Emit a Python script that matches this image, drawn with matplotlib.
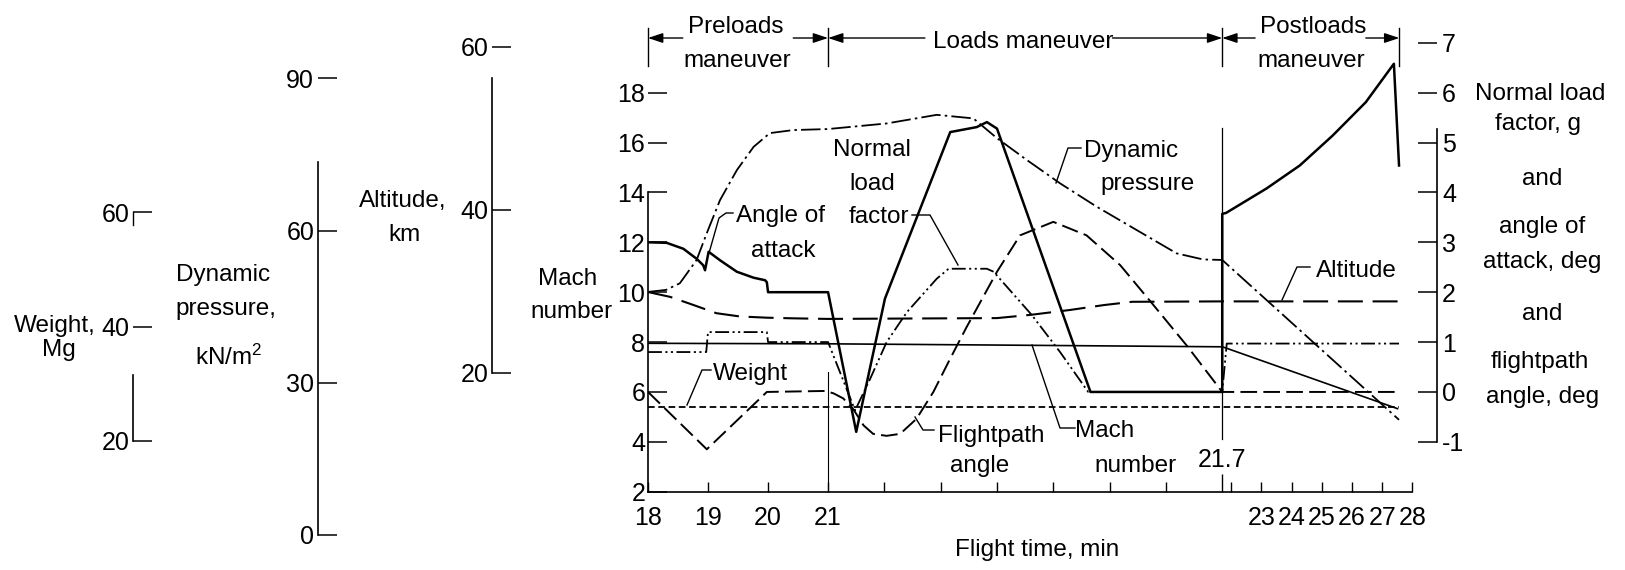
"""
Flight history through the preloads, loads and postloads maneuvers:
weight, dynamic pressure, altitude, Mach number, normal load factor,
angle of attack and flightpath angle against flight time.

Saves the chart to out.png.
"""

import matplotlib
matplotlib.use("Agg")
import matplotlib.pyplot as plt
import numpy as np
from matplotlib import font_manager
from matplotlib.lines import Line2D
from matplotlib.transforms import blended_transform_factory

W, H = 1625, 570

# time axis is piecewise: 18-21 normal, 21-21.7 stretched, 21.7-28 squeezed
TIME_KNOTS = [18.0, 21.0, 21.7, 28.0]
AXIS_KNOTS = [0.0, 180.0, 574.0, 764.0]

time_ticks = [18, 19, 20, 21, 21.1, 21.2, 21.3, 21.4, 21.5, 21.6, 22, 23, 24, 25, 26, 27, 28]
time_labels = ["18", "19", "20", "21", "", "", "", "", "", "", "", "23", "24", "25", "26", "27", "28"]

weight_ticks = [20, 40, 60]
qbar_ticks = [0, 30, 60, 90]
alt_ticks = [20, 40, 60]
mach_ticks = [2, 4, 6, 8, 10, 12, 14, 16, 18]
deg_ticks = [-1, 0, 1, 2, 3, 4, 5, 6, 7]

# maneuver boundaries, min
phase_edges = [18.0, 21.0, 21.7, 27.57]

# ---- curves (flight time, min) ----
weight_t = [18.0, 27.56]
weight_mg = [25.9, 25.9]

qbar_t = [18.0, 18.3, 18.53, 18.81, 18.98, 19.2, 19.48, 19.76, 20.03, 20.42, 21.0,
          21.104, 21.193, 21.258, 21.30, 21.353, 21.412, 21.477, 21.548, 21.619,
          21.666, 21.7, 27.56]
qbar_kn = [47.9, 48.3, 49.6, 54.2, 59.5, 66.0, 71.9, 76.5, 79.2, 79.8, 80.0,
           81.1, 82.8, 82.1, 78.2, 73.9, 69.3, 64.7, 60.1, 55.5,
           54.3, 54.2, 22.7]

alt_t = [18.0, 18.37, 18.76, 19.14, 19.53, 19.98, 20.42, 21.0, 21.3, 21.36, 21.43,
         21.49, 21.54, 21.7, 27.56]
alt_km = [29.9, 29.3, 28.3, 27.3, 26.9, 26.75, 26.67, 26.6, 26.7, 27.1, 27.7,
          28.3, 28.7, 28.75, 28.75]

mach_t = [18.0, 21.0, 21.3, 21.7, 21.85, 27.51]
mach_no = [7.95, 7.93, 7.88, 7.81, 7.75, 5.33]

nz_t = [18.0, 18.97, 19.0, 19.98, 20.0, 21.0, 21.048, 21.075, 21.104, 21.14, 21.193,
        21.214, 21.282, 21.294, 21.362, 21.412, 21.462, 21.7, 21.85, 27.56]
nz_g = [0.8, 0.8, 1.2, 1.2, 1.0, 1.0, -0.37, 0.27, 1.0, 1.6, 2.27,
        2.47, 2.47, 2.41, 1.54, 0.8, 0.0, 0.0, 0.97, 0.97]

aoa_t = [18.0, 18.31, 18.59, 18.81, 18.92, 18.95, 19.01, 19.2, 19.48, 19.76, 19.95,
         19.98, 20.0, 21.0, 21.05, 21.101, 21.217, 21.264, 21.282, 21.30, 21.466,
         21.7, 21.7, 21.83, 23.17, 24.27, 25.36, 26.46, 27.39, 27.56]
aoa_deg = [3.0, 2.99, 2.87, 2.67, 2.54, 2.44, 2.81, 2.64, 2.41, 2.29, 2.24,
           2.2, 2.0, 2.0, -0.8, 1.87, 5.21, 5.31, 5.41, 5.28, 0.0,
           0.0, 3.57, 3.59, 4.08, 4.54, 5.14, 5.81, 6.58, 4.54]

fpa_t = [18.0, 18.98, 19.98, 20.96, 21.01, 21.027, 21.045, 21.063, 21.08, 21.104,
         21.128, 21.157, 21.187, 21.217, 21.246, 21.30, 21.341, 21.40, 21.459,
         21.519, 21.578, 21.637, 21.7, 27.56]
fpa_deg = [0.0, -1.15, 0.0, 0.02, -0.03, -0.13, -0.35, -0.67, -0.84, -0.88,
           -0.84, -0.54, 0.0, 0.67, 1.3, 2.41, 3.14, 3.41, 3.14,
           2.54, 1.74, 0.93, 0.0, 0.0]

# ---- fonts ----
names = {f.name for f in font_manager.fontManager.ttflist}
TEXT_FONT = ["Liberation Sans", "DejaVu Sans"]
if "Liberation Sans Narrow" in names:
    NUM_FONT, NUM_SIZE = ["Liberation Sans Narrow"] + TEXT_FONT, 19.5
else:
    NUM_FONT, NUM_SIZE = TEXT_FONT, 18
plt.rcParams["font.family"] = TEXT_FONT
plt.rcParams["mathtext.default"] = "regular"
plt.rcParams["lines.scale_dashes"] = False
TXT = 17.5


def fwd(t):
    return np.interp(t, TIME_KNOTS, AXIS_KNOTS)


def inv(p):
    return np.interp(p, AXIS_KNOTS, TIME_KNOTS)


fig = plt.figure(figsize=(W / 100, H / 100), dpi=100)
fig.patch.set_facecolor("white")

X0, X1 = 648, 1412.3


def rect(y_bot, y_top):
    return [X0 / W, 1 - y_bot / H, (X1 - X0) / W, (y_bot - y_top) / H]


def spine_at(xpix):
    return ("axes", (xpix - X0) / (X1 - X0))


# main axes carries Mach number
ax = fig.add_axes(rect(491.7, 42.8))
ax.set_xscale("function", functions=(fwd, inv))
ax.set_xlim(18, 28)
ax.set_ylim(2, 20)
ax.patch.set_visible(False)
for s in ("top", "right"):
    ax.spines[s].set_visible(False)
ax.spines["left"].set_bounds(2, 14)
ax.spines["left"].set_linewidth(1.2)
ax.spines["bottom"].set_linewidth(1.2)
ax.set_xticks(time_ticks)
ax.set_xticklabels(time_labels)
ax.set_xticks([21.7], minor=True)
ax.tick_params(axis="x", which="major", direction="in", length=7, width=1.0, pad=10)
ax.tick_params(axis="x", which="minor", direction="in", length=13, width=1.0)
ax.set_yticks(mach_ticks)
ax.tick_params(axis="y", direction="in", length=14, width=1.1, pad=2)

# right scale: normal load factor, angle of attack, flightpath angle
ax_r = ax.twinx()
ax_r.set_ylim(-2, 7)
for s in ("top", "left", "bottom"):
    ax_r.spines[s].set_visible(False)
ax_r.spines["right"].set_position(spine_at(1436.5))
ax_r.spines["right"].set_bounds(-1, 5.28)
ax_r.spines["right"].set_linewidth(1.2)
ax_r.set_yticks(deg_ticks)
ax_r.set_yticklabels([str(v) for v in deg_ticks])
ax_r.tick_params(axis="y", direction="in", length=14, width=1.1, pad=4)


def side_axis(y_bot, y_top, lim, ticks, xpix, bounds):
    a = fig.add_axes(rect(y_bot, y_top), sharex=ax)
    a.patch.set_visible(False)
    a.set_ylim(*lim)
    for s in ("top", "right", "bottom"):
        a.spines[s].set_visible(False)
    a.spines["left"].set_position(spine_at(xpix))
    a.spines["left"].set_bounds(*bounds)
    a.spines["left"].set_linewidth(1.2)
    a.xaxis.set_visible(False)
    a.set_yticks(ticks)
    a.set_yticklabels([str(v) for v in ticks])
    a.tick_params(axis="y", direction="in", length=14, width=1.1, pad=3)
    return a


ax_w = side_axis(441.0, 212.3, (20, 60), weight_ticks, 133.3, (20, 31.5))
ax_q = side_axis(535.0, 78.3, (0, 90), qbar_ticks, 318.3, (0, 73.6))
ax_a = side_axis(372.7, 46.7, (20, 60), alt_ticks, 492.3, (20, 56.2))

# little stub of the weight scale next to the 60 tick
stub = blended_transform_factory(ax_w.transAxes, ax_w.transData)
ax_w.plot([spine_at(133.3)[1]] * 2, [57.8, 60], color="k", lw=1.0,
          transform=stub, clip_on=False)

for a in (ax, ax_r, ax_w, ax_q, ax_a):
    for lbl in a.get_yticklabels() + a.get_xticklabels():
        lbl.set_fontfamily(NUM_FONT)
        lbl.set_fontsize(NUM_SIZE)

# ---- curves ----
ax_w.plot(weight_t, weight_mg, color="k", lw=1.3, dashes=(4.8, 2.6))
ax_q.plot(qbar_t, qbar_kn, color="k", lw=1.3, dashes=(14, 3, 1.8, 3))
ax_a.plot(alt_t, alt_km, color="k", lw=1.5, dashes=(18, 7))
ax.plot(mach_t, mach_no, color="k", lw=1.2)
ax_r.plot(nz_t, nz_g, color="k", lw=1.3, dashes=(10, 2.5, 1.5, 2.5, 1.5, 2.5))
ax_r.plot(aoa_t, aoa_deg, color="k", lw=1.8)
ax_r.plot(fpa_t, fpa_deg, color="k", lw=1.4, dashes=(12, 4.5))

# phase reference lines
ax.plot([21.0, 21.0], [2, 6.8], color="k", lw=0.8)
ax.plot([21.7, 21.7], [4.1, 16.6], color="k", lw=0.9)

# ---- phase brackets ----
top = blended_transform_factory(ax.transData, fig.transFigure)


def fy(y):
    return 1 - y / H


for t in phase_edges:
    ax.plot([t, t], [fy(28), fy(66)], color="k", lw=1.0, transform=top, clip_on=False)

arrow_kw = dict(arrowstyle="-|>,head_length=0.9,head_width=0.3", mutation_scale=10,
                color="k", lw=1.0, shrinkA=0, shrinkB=0)
for t_from, t_to in [(18.58, 18.0), (20.42, 21.0), (21.172, 21.0), (21.505, 21.7),
                     (22.79, 21.7), (26.46, 27.57)]:
    ax.annotate("", xy=(t_to, fy(38)), xytext=(t_from, fy(38)), xycoords=top,
                textcoords=top, arrowprops=arrow_kw, annotation_clip=False)


def label(x, y, s, **kw):
    kw.setdefault("ha", "center")
    kw.setdefault("va", "baseline")
    kw.setdefault("fontsize", TXT)
    fig.text(x / W, 1 - y / H, s, **kw)


def leader(pts):
    fig.add_artist(Line2D([p[0] / W for p in pts], [1 - p[1] / H for p in pts],
                          transform=fig.transFigure, color="k", lw=1.0))


label(736, 33, "Preloads")
label(737, 67, "maneuver")
label(1023, 48, "Loads maneuver")
label(1313, 33, "Postloads")
label(1311, 67, "maneuver")

ax.text(21.7, fy(467), "21.7", transform=top, ha="center", va="baseline",
        fontsize=NUM_SIZE, fontfamily=NUM_FONT)

# curve labels with leaders
label(781, 222, "Angle of")
label(783, 257, "attack")
leader([(733, 213), (726, 213), (719, 218), (709, 253)])

label(872, 156, "Normal")
label(872, 190, "load")
label(879, 223, "factor")
leader([(912, 215), (930, 215), (958, 265)])

label(1131, 157, "Dynamic")
label(1148, 190, "pressure")
leader([(1081, 148), (1068, 148), (1056, 183)])

label(991, 442, "Flightpath")
label(980, 472, "angle")
leader([(934, 430), (923, 430), (915, 417)])

label(1105, 437, "Mach")
label(1136, 472, "number")
leader([(1075, 428), (1060, 428), (1032, 345)])

label(750, 380, "Weight")
leader([(711, 370), (702, 370), (687, 405)])

label(1356, 277, "Altitude")
leader([(1310, 267), (1297, 267), (1282, 300)])

# scale titles
label(55, 332, "Weight,")
label(59, 356, "Mg")
label(223, 281, "Dynamic")
label(226, 315, "pressure,")
label(229, 365, "kN/m$^2$")
label(403, 207, "Altitude,")
label(404, 241, "km")
label(568, 285, "Mach")
label(572, 318, "number")

label(1540, 100, "Normal load")
label(1538, 130, "factor, g")
label(1542, 185, "and")
label(1542, 233, "angle of")
label(1542, 268, "attack, deg")
label(1542, 320, "and")
label(1540, 368, "flightpath")
label(1543, 403, "angle, deg")

label(1037, 556, "Flight time, min")

fig.savefig("out.png", dpi=100, facecolor="white")
